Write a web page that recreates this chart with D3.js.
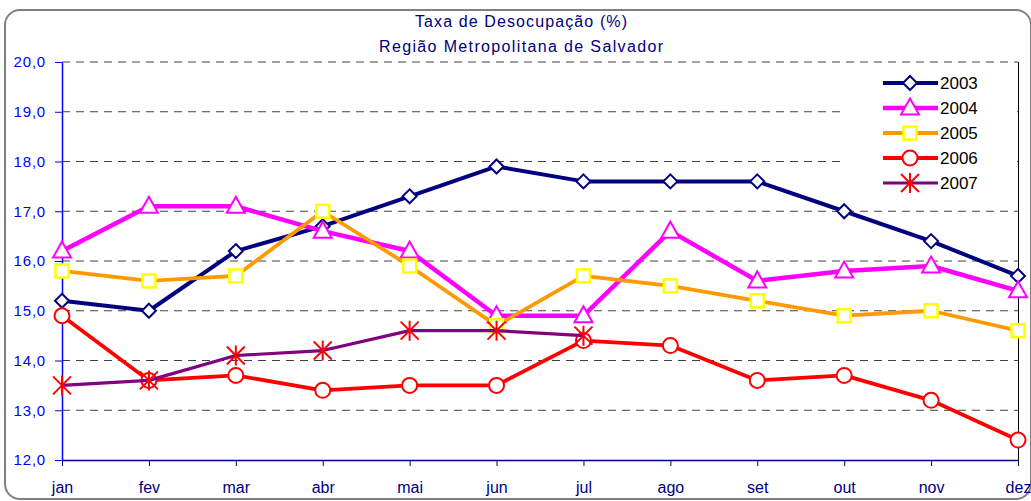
<!DOCTYPE html>
<html><head><meta charset="utf-8">
<script src="https://cdn.jsdelivr.net/npm/d3@7"></script>
<style>body{margin:0;background:#fff}svg{display:block;font-family:"Liberation Sans",Arial,sans-serif}</style>
</head><body><svg id="c" width="1031" height="501"></svg>
<script>
const months = ["jan","fev","mar","abr","mai","jun","jul","ago","set","out","nov","dez"];
const yTicks = [12,13,14,15,16,17,18,19,20];
const titleLines = ["Taxa de Desocupação (%)","Região Metropolitana de Salvador"];
const s2003 = [15.2,15.0,16.2,16.7,17.3,17.9,17.6,17.6,17.6,17.0,16.4,15.7];
const s2004 = [16.2,17.1,17.1,16.6,16.2,14.9,14.9,16.6,15.6,15.8,15.9,15.4];
const s2005 = [15.8,15.6,15.7,17.0,15.9,14.7,15.7,15.5,15.2,14.9,15.0,14.6];
const s2006 = [14.9,13.6,13.7,13.4,13.5,13.5,14.4,14.3,13.6,13.7,13.2,12.4];
const s2007 = [13.5,13.6,14.1,14.2,14.6,14.6,14.5];

const series = [
  {name:"2003", values:s2003, line:"#000080", width:4, marker:"diamond", mstroke:"#000080"},
  {name:"2004", values:s2004, line:"#FF00FF", width:4.5, marker:"triangle", mstroke:"#FF00FF"},
  {name:"2005", values:s2005, line:"#FF9900", width:3.8, marker:"square", mstroke:"#FFFF00"},
  {name:"2006", values:s2006, line:"#FF0000", width:3.8, marker:"circle", mstroke:"#FF0000"},
  {name:"2007", values:s2007, line:"#800080", width:3.2, marker:"star", mstroke:"#FF0000"}
];

const svg = d3.select("#c");
const L=62, R=1018, T=62, B=460;
const x = d3.scalePoint().domain(months).range([L,R]).padding(0);
const y = d3.scaleLinear().domain([12,20]).range([B,T]);

// outer rounded border
svg.append("rect").attr("x",5).attr("y",10).attr("width",1026).attr("height",489)
  .attr("rx",15).attr("fill","#fff").attr("stroke","#808080").attr("stroke-width",2);

// title
const titleW = [212, 284];
titleLines.forEach((t,i)=>{
  svg.append("text").attr("x",521).attr("y",27+i*25).attr("text-anchor","middle")
    .attr("font-size",16).attr("fill","#000080")
    .attr("textLength",titleW[i]).attr("lengthAdjust","spacing").text(t);
});

// gridlines
svg.append("g").selectAll("line").data(yTicks.filter(d=>d>12)).join("line")
  .attr("x1",L).attr("x2",R).attr("y1",d=>y(d)).attr("y2",d=>y(d))
  .attr("stroke","#404040").attr("stroke-width",1).attr("stroke-dasharray","8,6");

// right border
svg.append("line").attr("x1",R+0.5).attr("x2",R+0.5).attr("y1",T).attr("y2",B)
  .attr("stroke","#000").attr("stroke-width",1);

// legend background
svg.append("rect").attr("x",840).attr("y",64).attr("width",177).attr("height",134).attr("fill","#fff");

// axes
const fmt = d=>d3.format(".1f")(d).replace(".",",");
const ya = svg.append("g").attr("transform",`translate(${L},0)`)
  .call(d3.axisLeft(y).tickValues(yTicks).tickFormat(fmt).tickSize(7).tickSizeOuter(0));
ya.select(".domain").attr("stroke","#0000FF").attr("stroke-width",1.5);
ya.selectAll(".tick line").attr("stroke","#0000FF");
ya.selectAll(".tick text").attr("fill","#0000FF").attr("font-size",15)
  .attr("font-family","Liberation Sans, Arial").attr("x",-16).attr("letter-spacing","0.8");

const xa = svg.append("g").attr("transform",`translate(0,${B})`)
  .call(d3.axisBottom(x).tickSize(6).tickSizeOuter(0));
xa.select(".domain").attr("stroke","#000080").attr("stroke-width",1.5);
xa.selectAll(".tick line").attr("stroke","#000080");
xa.selectAll(".tick text").attr("fill","#000080").attr("font-size",16)
  .attr("font-family","Liberation Sans, Arial").attr("y",33).attr("dy",0);

// markers
function drawMarker(g, type, stroke, cx, cy){
  if(type==="diamond"){
    g.append("path").attr("d","M0,-7L7,0L0,7L-7,0Z").attr("transform",`translate(${cx},${cy})`)
      .attr("fill","#fff").attr("stroke",stroke).attr("stroke-width",2);
  } else if(type==="triangle"){
    g.append("path").attr("d","M0,-9.5L9,6.5L-9,6.5Z").attr("transform",`translate(${cx},${cy})`)
      .attr("fill","#fff").attr("stroke",stroke).attr("stroke-width",2);
  } else if(type==="square"){
    g.append("rect").attr("x",cx-6.5).attr("y",cy-6.5).attr("width",13).attr("height",13)
      .attr("fill","#fff").attr("stroke",stroke).attr("stroke-width",2.5);
  } else if(type==="circle"){
    g.append("circle").attr("cx",cx).attr("cy",cy).attr("r",7.5)
      .attr("fill","#fff").attr("stroke",stroke).attr("stroke-width",2);
  } else if(type==="star"){
    g.append("path").attr("d","M0,-10V10M-9,-9L9,9M9,-9L-9,9").attr("transform",`translate(${cx},${cy})`)
      .attr("fill","none").attr("stroke",stroke).attr("stroke-width",2);
  }
}

const line = d3.line().x((d,i)=>x(months[i])).y(d=>y(d));
series.forEach(s=>{
  const g = svg.append("g");
  g.append("path").attr("d",line(s.values)).attr("fill","none").attr("stroke",s.line)
    .attr("stroke-width",s.width).attr("stroke-linejoin","round");
  s.values.forEach((v,i)=>drawMarker(g,s.marker,s.mstroke,x(months[i]),y(v)));
});

// legend
const lg = svg.append("g");
series.forEach((s,i)=>{
  const ly = 83 + i*25;
  lg.append("line").attr("x1",883).attr("x2",938).attr("y1",ly).attr("y2",ly)
    .attr("stroke",s.line).attr("stroke-width",s.width);
  drawMarker(lg,s.marker,s.mstroke,910,ly);
  lg.append("text").attr("x",940).attr("y",ly+6).attr("font-size",17).attr("fill","#000").text(s.name);
});
</script></body></html>
